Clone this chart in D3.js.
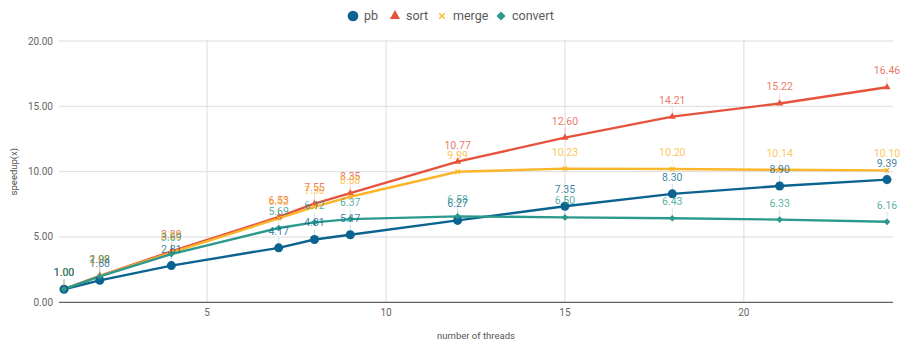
<!DOCTYPE html>
<html>
<head>
<meta charset="utf-8">
<script src="https://cdn.jsdelivr.net/npm/d3@7"></script>
<style>
  html, body { margin: 0; padding: 0; background: #fff; }
  svg { display: block; font-family: Roboto, "Liberation Sans", Arial, sans-serif; }
</style>
</head>
<body>
<svg id="chart" width="901" height="344"></svg>
<script>
// Thread counts and measured speedups per stage
const threads = [1, 2, 4, 7, 8, 9, 12, 15, 18, 21, 24];
const pb      = [1.00, 1.68, 2.81, 4.17, 4.81, 5.17, 6.27, 7.35, 8.30, 8.90, 9.39];
const sortS   = [1.00, 2.02, 3.89, 6.53, 7.55, 8.35, 10.77, 12.60, 14.21, 15.22, 16.46];
const merge   = [1.00, 2.00, 3.80, 6.42, 7.30, 8.08, 9.99, 10.23, 10.20, 10.14, 10.10];
const convert = [1.00, 1.98, 3.69, 5.69, 6.12, 6.37, 6.58, 6.50, 6.43, 6.33, 6.16];
const yTicks  = [0, 5, 10, 15, 20];
const xTicks  = [5, 10, 15, 20];

const seriesList = [
  { name: "pb",      values: pb,      color: "#0b6390", symbol: d3.symbolCircle,   size: 64, lsize: 90 },
  { name: "sort",    values: sortS,   color: "#e5533d", symbol: d3.symbolTriangle, size: 22, lsize: 45 },
  { name: "merge",   values: merge,   color: "#fbb62c", symbol: d3.symbolTimes,    size: 14, lsize: 22 },
  { name: "convert", values: convert, color: "#2b9a8c", symbol: d3.symbolSquare,   size: 22, lsize: 40, rotate: 45 }
];

const svg = d3.select("#chart");
const plotL = 59, plotR = 893, plotT = 41, plotB = 302.3;

const x = d3.scaleLinear().domain([1, 24]).range([64, 887]);
const y = d3.scaleLinear().domain([0, 20]).range([plotB, plotT]);

// Grid
const g = svg.append("g");
g.selectAll(".hgrid").data(yTicks.filter(d => d > 0)).join("line")
  .attr("x1", plotL).attr("x2", plotR)
  .attr("y1", d => y(d)).attr("y2", d => y(d))
  .attr("stroke", "#dcdcdc").attr("stroke-width", 1);
g.selectAll(".vgrid").data(xTicks).join("line")
  .attr("x1", d => x(d)).attr("x2", d => x(d))
  .attr("y1", plotT - 1).attr("y2", plotB)
  .attr("stroke", "#dcdcdc").attr("stroke-width", 1);

// Baseline
g.append("line").attr("x1", plotL).attr("x2", plotR)
  .attr("y1", y(0)).attr("y2", y(0))
  .attr("stroke", "#5f5f5f").attr("stroke-width", 1.2);

// Y tick labels
g.selectAll(".ylab").data(yTicks).join("text")
  .attr("x", 53).attr("y", d => y(d)).attr("dy", "0.35em")
  .attr("text-anchor", "end").attr("font-size", 10).attr("fill", "#666")
  .text(d => d3.format(".2f")(d));

// X tick labels
g.selectAll(".xlab").data(xTicks).join("text")
  .attr("x", d => x(d)).attr("y", 316)
  .attr("text-anchor", "middle").attr("font-size", 10).attr("fill", "#666")
  .text(d => d);

// Axis titles
svg.append("text").attr("x", 476).attr("y", 339)
  .attr("text-anchor", "middle").attr("font-size", 9.5).attr("fill", "#555")
  .text("number of threads");
svg.append("text")
  .attr("transform", `translate(17,${(plotT + plotB) / 2}) rotate(-90)`)
  .attr("text-anchor", "middle").attr("font-size", 9.5).attr("fill", "#555")
  .text("speedup(x)");

// Lines
const line = d3.line().x(d => x(d.t)).y(d => y(d.v));
const plotOrder = ["sort", "merge", "pb", "convert"];
const lineLayer = svg.append("g");
const markLayer = svg.append("g");
const labelLayer = svg.append("g");

function markerAttrs(sel, s, size) {
  const stroked = s.symbol === d3.symbolTimes;
  sel.attr("d", d3.symbol().type(s.symbol).size(size))
    .attr("fill", stroked ? "none" : s.color)
    .attr("stroke", stroked ? s.color : "none")
    .attr("stroke-width", stroked ? 1.3 : 0);
}

plotOrder.forEach(nm => {
  const s = seriesList.find(d => d.name === nm);
  const pts = threads.map((t, i) => ({ t, v: s.values[i] }));
  lineLayer.append("path").datum(pts)
    .attr("fill", "none").attr("stroke", s.color)
    .attr("stroke-width", 2.4).attr("stroke-linejoin", "round")
    .attr("d", line);

  // leader lines from point to label
  labelLayer.selectAll(null).data(pts).join("line")
    .attr("x1", d => x(d.t)).attr("x2", d => x(d.t))
    .attr("y1", d => y(d.v) - 10).attr("y2", d => y(d.v))
    .attr("stroke", s.color).attr("stroke-opacity", 0.22).attr("stroke-width", 1);

  markLayer.selectAll(null).data(pts).join("path")
    .call(markerAttrs, s, s.size)
    .attr("transform", d => `translate(${x(d.t)},${y(d.v)}) rotate(${s.rotate || 0})`);

  labelLayer.selectAll(null).data(pts).join("text")
    .attr("x", d => x(d.t)).attr("y", d => y(d.v) - 13)
    .attr("text-anchor", "middle").attr("font-size", 10.5)
    .attr("fill", s.color).attr("fill-opacity", 0.8)
    .text(d => d3.format(".2f")(d.v));
});

// Legend
const legendPos = [353, 395, 442, 501];
const legend = svg.append("g");
seriesList.forEach((s, i) => {
  const lg = legend.append("g").attr("transform", `translate(${legendPos[i]},16)`);
  lg.append("path")
    .call(markerAttrs, s, s.lsize)
    .attr("transform", `rotate(${s.rotate || 0})`);
  lg.append("text").attr("x", 11).attr("y", 0).attr("dy", "0.35em")
    .attr("font-size", 12.5).attr("fill", "#5a5a5a").text(s.name);
});
</script>
</body>
</html>
